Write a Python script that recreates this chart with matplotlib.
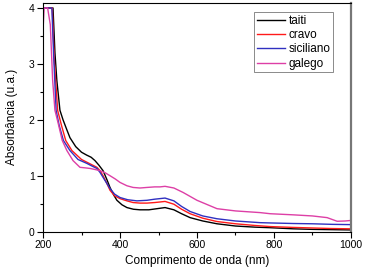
import matplotlib
matplotlib.use("Agg")
from matplotlib import pyplot as plt
from matplotlib.ticker import MultipleLocator

plt.rcParams['font.family'] = ['Liberation Sans', 'DejaVu Sans']

#--- Data (wavelength nm, absorbance)
wl_taiti = [200, 226, 231, 236, 244, 252, 262, 270, 285, 300, 313, 325, 335, 345, 356, 366, 374, 384, 392, 405, 418, 435, 452, 475, 496, 517, 540, 560, 582, 615, 652, 700, 750, 790, 850, 900, 950, 1000]
abs_taiti = [4.0, 4.0, 3.2, 2.7, 2.17, 2.0, 1.82, 1.68, 1.52, 1.42, 1.37, 1.33, 1.27, 1.19, 1.09, 0.93, 0.79, 0.65, 0.56, 0.48, 0.43, 0.40, 0.39, 0.39, 0.41, 0.43, 0.39, 0.32, 0.25, 0.19, 0.14, 0.10, 0.08, 0.07, 0.05, 0.04, 0.035, 0.03]

wl_cravo = [200, 224, 229, 238, 248, 259, 275, 300, 320, 340, 348, 356, 366, 374, 386, 400, 418, 434, 452, 470, 490, 504, 517, 540, 560, 582, 615, 652, 700, 750, 790, 850, 900, 950, 1000]
abs_cravo = [4.0, 4.0, 3.1, 2.17, 1.9, 1.63, 1.45, 1.29, 1.22, 1.15, 1.09, 1.0, 0.86, 0.74, 0.64, 0.59, 0.55, 0.52, 0.51, 0.51, 0.52, 0.53, 0.54, 0.49, 0.40, 0.32, 0.24, 0.18, 0.14, 0.11, 0.09, 0.075, 0.065, 0.055, 0.05]

wl_sicil = [200, 223, 228, 234, 242, 253, 270, 291, 314, 328, 340, 348, 356, 366, 374, 386, 400, 420, 444, 470, 490, 517, 540, 560, 582, 615, 652, 700, 764, 790, 850, 900, 950, 1000]
abs_sicil = [4.0, 4.0, 3.1, 2.17, 1.9, 1.63, 1.45, 1.29, 1.22, 1.17, 1.13, 1.06, 0.97, 0.86, 0.77, 0.67, 0.61, 0.57, 0.55, 0.56, 0.58, 0.60, 0.55, 0.45, 0.36, 0.28, 0.23, 0.19, 0.16, 0.155, 0.145, 0.14, 0.13, 0.125]

wl_galego = [200, 203, 212, 219, 225, 231, 239, 250, 262, 278, 296, 310, 322, 336, 348, 362, 374, 388, 400, 418, 434, 452, 470, 490, 504, 517, 540, 564, 600, 652, 700, 764, 790, 850, 900, 938, 964, 985, 1000]
abs_galego = [3.6, 4.0, 4.0, 3.7, 2.71, 2.17, 1.95, 1.63, 1.45, 1.27, 1.15, 1.14, 1.13, 1.11, 1.09, 1.05, 1.0, 0.94, 0.88, 0.82, 0.79, 0.78, 0.79, 0.80, 0.80, 0.81, 0.78, 0.70, 0.56, 0.41, 0.37, 0.34, 0.32, 0.30, 0.28, 0.25, 0.185, 0.19, 0.2]

labels = ["taiti", "cravo", "siciliano", "galego"]
colors = ["black", "#ff1a1a", "#3030c0", "#dd3fa6"]

fig = plt.figure(figsize=(3.66, 2.69), dpi=100)
ax = fig.add_axes([0.1175, 0.139, 0.8415, 0.85])

ax.plot(wl_taiti, abs_taiti, color=colors[0], lw=1.0, label=labels[0])
ax.plot(wl_cravo, abs_cravo, color=colors[1], lw=1.0, label=labels[1])
ax.plot(wl_sicil, abs_sicil, color=colors[2], lw=1.0, label=labels[2])
ax.plot(wl_galego, abs_galego, color=colors[3], lw=1.0, label=labels[3])

ax.set_xlim(200, 1000)
ax.set_ylim(0, 4.09)
ax.xaxis.set_major_locator(MultipleLocator(200))
ax.xaxis.set_minor_locator(MultipleLocator(100))
ax.yaxis.set_major_locator(MultipleLocator(1))
ax.yaxis.set_minor_locator(MultipleLocator(0.5))
ax.tick_params(which="major", direction="out", length=4, width=0.8, labelsize=7.5, pad=2)
ax.tick_params(which="minor", direction="out", length=2, width=0.8)
ax.spines["right"].set_color("#777777")
ax.spines["right"].set_linewidth(1.6)

ax.set_xlabel("Comprimento de onda (nm)", fontsize=8.5, labelpad=4)
ax.set_ylabel("Absorbância (u.a.)", fontsize=8.5, labelpad=8)

leg = ax.legend(loc="upper right", fontsize=8.5, frameon=True, fancybox=False,
                edgecolor="#555555", handlelength=2.4, handletextpad=0.3,
                labelspacing=0.2, borderpad=0.2, bbox_to_anchor=(0.96, 0.985))
leg.get_frame().set_linewidth(0.6)

fig.savefig("out.png", dpi=100)
